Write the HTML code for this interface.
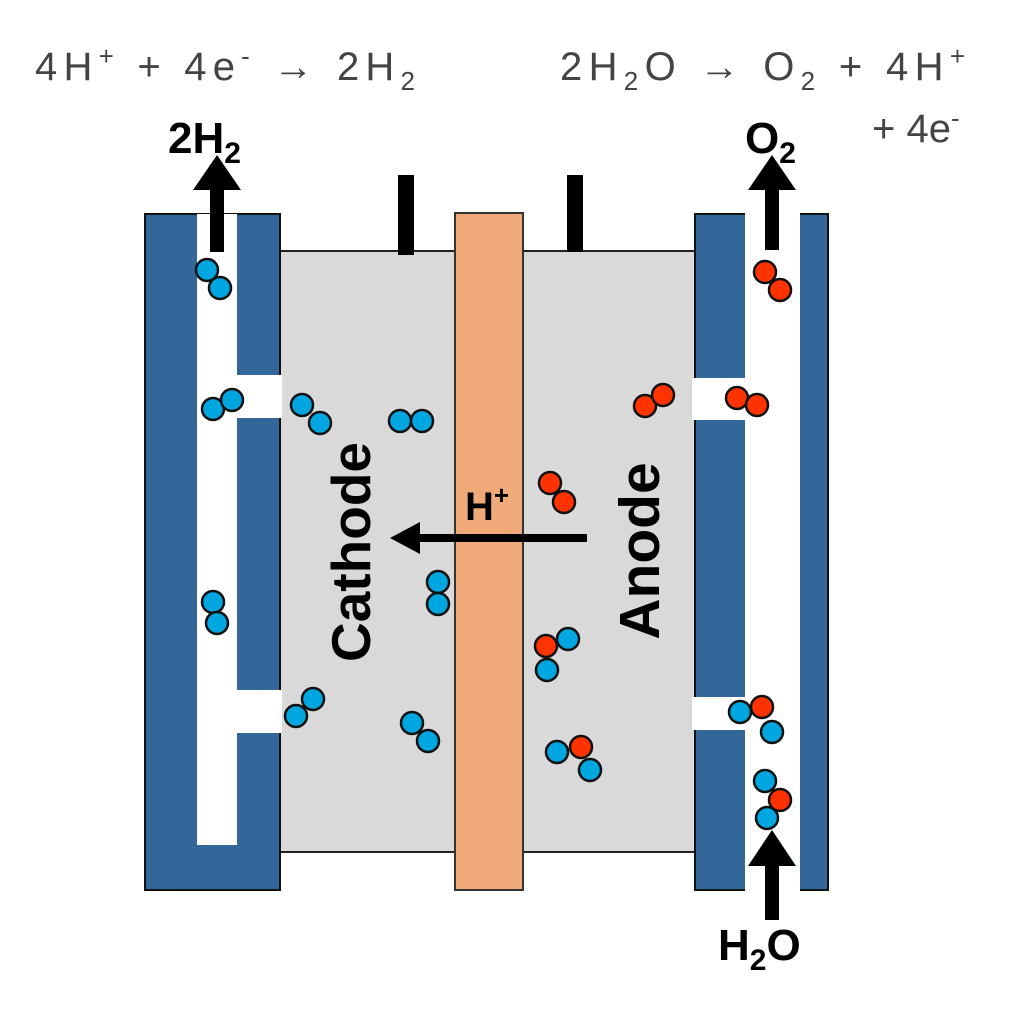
<!DOCTYPE html>
<html><head><style>body{margin:0;background:#fff}svg{display:block}</style></head><body>
<svg width="1011" height="1024" viewBox="0 0 1011 1024" xmlns="http://www.w3.org/2000/svg" font-family="Liberation Sans, sans-serif">
<!-- gray electrode region -->
<rect x="280" y="251" width="416" height="601" fill="#d9d9d9" stroke="#222" stroke-width="2"/>
<!-- terminals -->
<rect x="398" y="175" width="16" height="80" fill="#000"/>
<rect x="567" y="175" width="16" height="77" fill="#000"/>
<!-- membrane -->
<rect x="455" y="213" width="68" height="677" fill="#f0aa7a" stroke="#333" stroke-width="2"/>
<!-- left plate -->
<rect x="145" y="214" width="135" height="676" fill="#336699" stroke="#111" stroke-width="2"/>
<rect x="197" y="214" width="40" height="631" fill="#fff"/>
<rect x="237" y="375" width="45" height="43" fill="#fff"/>
<rect x="237" y="690" width="45" height="43" fill="#fff"/>
<!-- right plate -->
<rect x="695" y="214" width="133" height="676" fill="#336699" stroke="#111" stroke-width="2"/>
<rect x="745" y="212" width="55" height="680" fill="#fff"/>
<rect x="692" y="378" width="53" height="42" fill="#fff"/>
<rect x="692" y="697" width="53" height="33" fill="#fff"/>
<!-- arrows -->
<g fill="#000">
<rect x="210" y="188" width="14" height="64"/><path d="M193,190 L217,155 L241,190 z"/>
<rect x="765" y="188" width="14" height="62"/><path d="M748,190 L772,155 L796,190 z"/>
<rect x="765" y="862" width="14" height="58"/><path d="M748,866 L772,830 L796,866 z"/>
<rect x="418" y="534" width="169" height="8"/><path d="M390,538 L420,522 L420,554 z"/>
</g>
<!-- molecules -->
<g stroke="#111" stroke-width="2.5">
<g fill="#00a6e0">
<circle cx="207" cy="270" r="11"/><circle cx="220" cy="288" r="11"/>
<circle cx="213" cy="409" r="11"/><circle cx="232" cy="400" r="11"/>
<circle cx="302" cy="405" r="11"/><circle cx="320" cy="423" r="11"/>
<circle cx="400" cy="421" r="11"/><circle cx="422" cy="421" r="11"/>
<circle cx="213" cy="602" r="11"/><circle cx="217" cy="623" r="11"/>
<circle cx="296" cy="716" r="11"/><circle cx="313" cy="699" r="11"/>
<circle cx="412" cy="723" r="11"/><circle cx="428" cy="741" r="11"/>
<circle cx="438" cy="582" r="11"/><circle cx="438" cy="604" r="11"/>
<circle cx="568" cy="639" r="11"/><circle cx="547" cy="670" r="11"/>
<circle cx="557" cy="752" r="11"/><circle cx="590" cy="770" r="11"/>
<circle cx="740" cy="712" r="11"/><circle cx="772" cy="732" r="11"/>
<circle cx="765" cy="781" r="11"/><circle cx="767" cy="818" r="11"/>
</g>
<g fill="#ff3300">
<circle cx="550" cy="483" r="11"/><circle cx="564" cy="502" r="11"/>
<circle cx="645" cy="406" r="11"/><circle cx="663" cy="395" r="11"/>
<circle cx="765" cy="272" r="11"/><circle cx="780" cy="290" r="11"/>
<circle cx="737" cy="398" r="11"/><circle cx="757" cy="405" r="11"/>
<circle cx="546" cy="646" r="11"/>
<circle cx="581" cy="747" r="11"/>
<circle cx="762" cy="707" r="11"/>
<circle cx="780" cy="800" r="11"/>
</g>
</g>
<!-- text -->
<g fill="#444" font-size="40">
<text x="35" y="80" textLength="380" lengthAdjust="spacing">4H<tspan font-size="26" dy="-15">+</tspan><tspan dy="15"> + 4e</tspan><tspan font-size="26" dy="-15">-</tspan><tspan dy="15"> → 2H</tspan><tspan font-size="26" dy="10">2</tspan></text>
<text x="560" y="80" textLength="405" lengthAdjust="spacing">2H<tspan font-size="26" dy="10">2</tspan><tspan dy="-10">O → O</tspan><tspan font-size="26" dy="10">2</tspan><tspan dy="-10"> + 4H</tspan><tspan font-size="26" dy="-15">+</tspan></text>
<text x="872" y="142">+ 4e<tspan font-size="26" dy="-15">-</tspan></text>
</g>
<g font-weight="bold" fill="#000" font-size="44">
<text x="168" y="153">2H<tspan font-size="30" dy="10">2</tspan></text>
<text x="745" y="153">O<tspan font-size="30" dy="10">2</tspan></text>
<text x="718" y="960">H<tspan font-size="30" dy="10">2</tspan><tspan dy="-10">O</tspan></text>
<text x="465" y="520" font-size="40">H<tspan font-size="26" dy="-16">+</tspan></text>
<text transform="translate(370,552) rotate(-90)" text-anchor="middle" font-size="55">Cathode</text>
<text transform="translate(659,551) rotate(-90)" text-anchor="middle" font-size="57">Anode</text>
</g>
</svg>
</body></html>
